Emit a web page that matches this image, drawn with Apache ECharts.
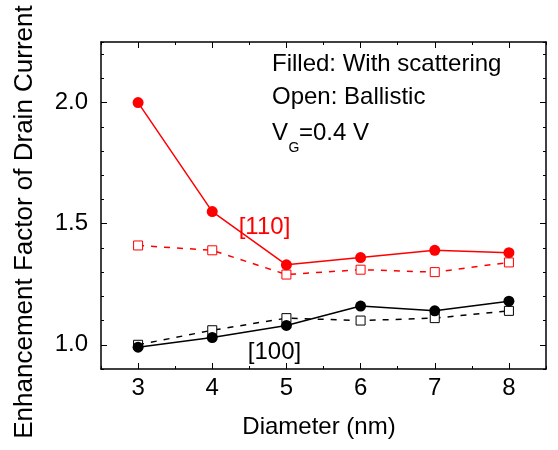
<!DOCTYPE html>
<html>
<head>
<meta charset="utf-8">
<script src="https://cdn.jsdelivr.net/npm/echarts@6/dist/echarts.min.js"></script>
<style>
  html, body { margin: 0; padding: 0; background: #fff; }
  #chart { width: 558px; height: 450px; }
</style>
</head>
<body>
<div id="chart"></div>
<script>
// diameters (nm)
const diameters = [3, 4, 5, 6, 7, 8]
// [110] direction
const scat110 = [2.0, 1.55, 1.33, 1.36, 1.39, 1.38]
const ball110 = [1.41, 1.39, 1.29, 1.31, 1.30, 1.34]
// [100] direction
const scat100 = [0.99, 1.03, 1.08, 1.16, 1.14, 1.18]
const ball100 = [1.00, 1.06, 1.11, 1.10, 1.11, 1.14]
const yLabels = [1.0, 1.5, 2.0]

const font = "'Liberation Sans', Arial, sans-serif"
const pairs = vals => diameters.map((d, i) => [d, vals[i]])

const xBase = {
    type: "value", min: 2.5, max: 8.5, interval: 0.5,
    splitLine: { show: false },
    axisLine: { show: true, onZero: false, lineStyle: { color: "#000", width: 1.5 } },
    axisTick: { show: true, inside: true, length: 3, lineStyle: { color: "#000", width: 1 } },
    axisLabel: { show: false }
}
const yBase = {
    type: "value", min: 0.9, max: 2.25, interval: 0.1,
    splitLine: { show: false },
    axisLine: { show: true, onZero: false, lineStyle: { color: "#000", width: 1.5 } },
    axisTick: { show: true, inside: true, length: 3, lineStyle: { color: "#000", width: 1 } },
    axisLabel: { show: false }
}
const major = (base, pos, vals, labels) => ({
    ...base, position: pos,
    axisLine: { show: false },
    axisTick: { show: true, inside: true, length: 6, customValues: vals, lineStyle: { color: "#000", width: 1 } },
    axisLabel: { show: false }
})

const chart = echarts.init(document.getElementById("chart"))
chart.setOption({
    animation: false,
    backgroundColor: "#fff",
    textStyle: { fontFamily: font },
    grid: { left: 101, right: 12, top: 42, bottom: 81 },
    xAxis: [
        {
            ...xBase, position: "bottom",
            axisLabel: {
                show: true, customValues: diameters, margin: 7,
                color: "#000", fontSize: 24, fontFamily: font
            }
        },
        major(xBase, "bottom", diameters),
        { ...xBase, position: "top" },
        major(xBase, "top", diameters)
    ],
    yAxis: [
        {
            ...yBase, position: "left",
            axisLabel: {
                show: true, customValues: yLabels, margin: 13,
                color: "#000", fontSize: 24, fontFamily: font,
                formatter: v => v.toFixed(1)
            }
        },
        major(yBase, "left", yLabels),
        { ...yBase, position: "right" },
        major(yBase, "right", yLabels)
    ],
    series: [
        {
            name: "[110] ballistic", type: "line", data: pairs(ball110),
            symbol: "rect", symbolSize: 9,
            itemStyle: { color: "#fff", borderColor: "#ff0000", borderWidth: 1 },
            lineStyle: { color: "#ff0000", width: 1.5, type: [6, 7] }
        },
        {
            name: "[110] scattering", type: "line", data: pairs(scat110),
            symbol: "circle", symbolSize: 11,
            itemStyle: { color: "#ff0000" },
            lineStyle: { color: "#ff0000", width: 1.5 }
        },
        {
            name: "[100] ballistic", type: "line", data: pairs(ball100),
            symbol: "rect", symbolSize: 9,
            itemStyle: { color: "#fff", borderColor: "#000", borderWidth: 1 },
            lineStyle: { color: "#000", width: 1.5, type: [6, 7] }
        },
        {
            name: "[100] scattering", type: "line", data: pairs(scat100),
            symbol: "circle", symbolSize: 11,
            itemStyle: { color: "#000" },
            lineStyle: { color: "#000", width: 1.5 }
        }
    ],
    graphic: [
        {
            type: "text", x: 25, y: 222, rotation: Math.PI / 2,
            style: { text: "Enhancement Factor of Drain Current", font: "26px " + font, fill: "#000", align: "center", verticalAlign: "middle" }
        },
        {
            type: "text", x: 319, y: 427,
            style: { text: "Diameter (nm)", font: "24px " + font, fill: "#000", align: "center", verticalAlign: "middle" }
        },
        {
            type: "text", x: 272, y: 64,
            style: { text: "Filled: With scattering", font: "24px " + font, fill: "#000", align: "left", verticalAlign: "middle" }
        },
        {
            type: "text", x: 272, y: 97,
            style: { text: "Open: Ballistic", font: "24px " + font, fill: "#000", align: "left", verticalAlign: "middle" }
        },
        {
            type: "text", x: 272, y: 133.5,
            style: { text: "V", font: "24px " + font, fill: "#000", align: "left", verticalAlign: "middle" }
        },
        {
            type: "text", x: 288.5, y: 148.5,
            style: { text: "G", font: "14px " + font, fill: "#000", align: "left", verticalAlign: "middle" }
        },
        {
            type: "text", x: 299, y: 133.5,
            style: { text: "=0.4 V", font: "24px " + font, fill: "#000", align: "left", verticalAlign: "middle" }
        },
        {
            type: "text", x: 264.5, y: 227,
            style: { text: "[110]", font: "24px " + font, fill: "#ff0000", align: "center", verticalAlign: "middle" }
        },
        {
            type: "text", x: 274.5, y: 352,
            style: { text: "[100]", font: "24px " + font, fill: "#000", align: "center", verticalAlign: "middle" }
        }
    ]
})
</script>
</body>
</html>
